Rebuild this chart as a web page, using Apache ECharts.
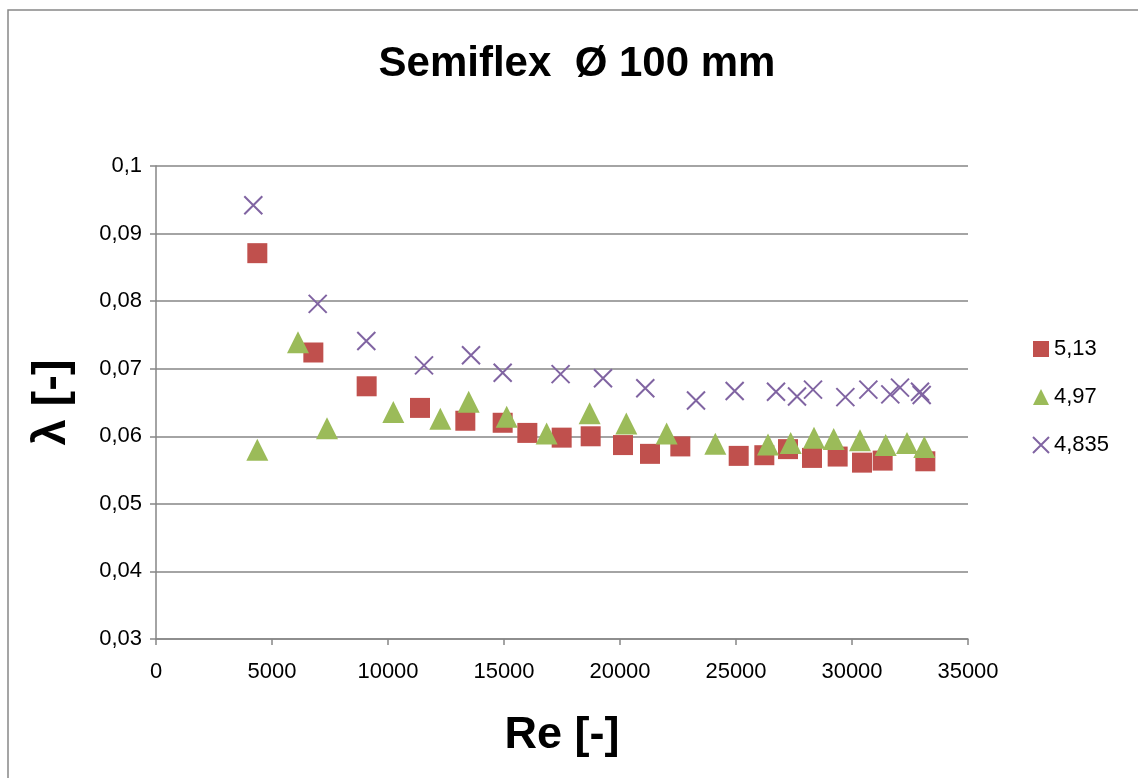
<!DOCTYPE html>
<html>
<head>
<meta charset="utf-8">
<script src="https://cdn.jsdelivr.net/npm/echarts@6/dist/echarts.min.js"></script>
<style>
html,body{margin:0;padding:0;background:#fff;}
#chart{width:1138px;height:778px;}
</style>
</head>
<body>
<div id="chart"></div>
<script>
// Reynolds number values and friction factor values
const re513 = [4367, 6782, 9080, 11379, 13333, 14943, 16006, 17486, 18736, 20129, 21293, 22600, 25116, 26221, 27241, 28276, 29382, 30431, 31322, 33161];
const lam513 = [0.0871, 0.0724, 0.0674, 0.0642, 0.0623, 0.0620, 0.0605, 0.0598, 0.0600, 0.0587, 0.0574, 0.0585, 0.0571, 0.0572, 0.0581, 0.0568, 0.0570, 0.0561, 0.0564, 0.0563];

const re497 = [4367, 6121, 7371, 10230, 12256, 13477, 15115, 16838, 18692, 20272, 22011, 24108, 26379, 27356, 28362, 29211, 30345, 31451, 32371, 33116];
const lam497 = [0.0580, 0.0739, 0.0612, 0.0636, 0.0626, 0.0651, 0.0629, 0.0604, 0.0634, 0.0619, 0.0604, 0.0589, 0.0588, 0.0590, 0.0598, 0.0596, 0.0594, 0.0587, 0.0590, 0.0584];

const re4835 = [4194, 6970, 9065, 11552, 13578, 14943, 17440, 19267, 21090, 23276, 24943, 26724, 27629, 28319, 29713, 30705, 31651, 32069, 32931, 33004];
const lam4835 = [0.0942, 0.0796, 0.0741, 0.0705, 0.0720, 0.0694, 0.0692, 0.0686, 0.0671, 0.0653, 0.0667, 0.0666, 0.0659, 0.0669, 0.0658, 0.0669, 0.0662, 0.0672, 0.0666, 0.0661];

const seriesNames = ['5,13', '4,97', '4,835'];
const titleText = 'Semiflex  Ø 100 mm';
const xAxisName = 'Re [-]';
const yAxisName = 'λ [-]';

const pair = (xs, ys) => xs.map((x, i) => [x, ys[i]]);
const FONT = 'Liberation Sans';
const crossPath = 'path://M0,0L10,10M10,0L0,10';

const chart = echarts.init(document.getElementById('chart'), null, {renderer: 'canvas'});
chart.setOption({
  animation: false,
  backgroundColor: '#fff',
  textStyle: {fontFamily: FONT},
  title: {
    text: titleText,
    left: 572,
    textAlign: 'center',
    top: 38,
    textStyle: {fontFamily: FONT, fontSize: 42, fontWeight: 'bold', color: '#000'}
  },
  graphic: [{
    type: 'rect',
    shape: {x: 8, y: 10, width: 1400, height: 1000},
    style: {fill: 'none', stroke: '#888', lineWidth: 1.5},
    silent: true
  }],
  grid: {left: 156, right: 170, top: 166, bottom: 139, containLabel: false},
  legend: {
    orient: 'vertical',
    left: 1027,
    top: 333,
    itemGap: 26,
    itemWidth: 16,
    itemHeight: 16,
    textStyle: {fontFamily: FONT, fontSize: 22, color: '#000', padding: [0, 0, 0, 0]},
    data: seriesNames
  },
  xAxis: {
    type: 'value',
    min: 0, max: 35000, interval: 5000,
    name: xAxisName,
    nameLocation: 'middle',
    nameGap: 74,
    nameTextStyle: {fontFamily: FONT, fontSize: 45, fontWeight: 'bold', color: '#000'},
    axisLine: {show: true, lineStyle: {color: '#868686', width: 1.5}},
    axisTick: {show: true, length: 6, lineStyle: {color: '#868686', width: 1.5}},
    axisLabel: {fontFamily: FONT, fontSize: 22, color: '#000', margin: 22, formatter: v => String(v)},
    splitLine: {show: false}
  },
  yAxis: {
    type: 'value',
    min: 0.03, max: 0.1, interval: 0.01,
    name: yAxisName,
    nameLocation: 'middle',
    nameRotate: 90,
    nameGap: 80,
    nameTextStyle: {fontFamily: FONT, fontSize: 47, fontWeight: 'bold', color: '#000'},
    axisLine: {show: true, lineStyle: {color: '#868686', width: 1.5}},
    axisTick: {show: true, length: 6, lineStyle: {color: '#868686', width: 1.5}},
    axisLabel: {
      fontFamily: FONT, fontSize: 22, color: '#000', margin: 14,
      formatter: v => String(Math.round(v * 100) / 100).replace('.', ',')
    },
    splitLine: {show: true, lineStyle: {color: '#868686', width: 1.5}}
  },
  series: [
    {
      name: seriesNames[0], type: 'scatter', symbol: 'rect', symbolSize: 20,
      itemStyle: {color: '#C0504D', opacity: 1},
      data: pair(re513, lam513)
    },
    {
      name: seriesNames[1], type: 'scatter', symbol: 'triangle', symbolSize: 22,
      itemStyle: {color: '#9BBB59', opacity: 1},
      data: pair(re497, lam497)
    },
    {
      name: seriesNames[2], type: 'scatter', symbol: crossPath, symbolSize: 18,
      itemStyle: {color: 'rgba(0,0,0,0)', borderColor: '#8064A2', borderWidth: 2, opacity: 1},
      data: pair(re4835, lam4835)
    }
  ]
});
</script>
</body>
</html>
